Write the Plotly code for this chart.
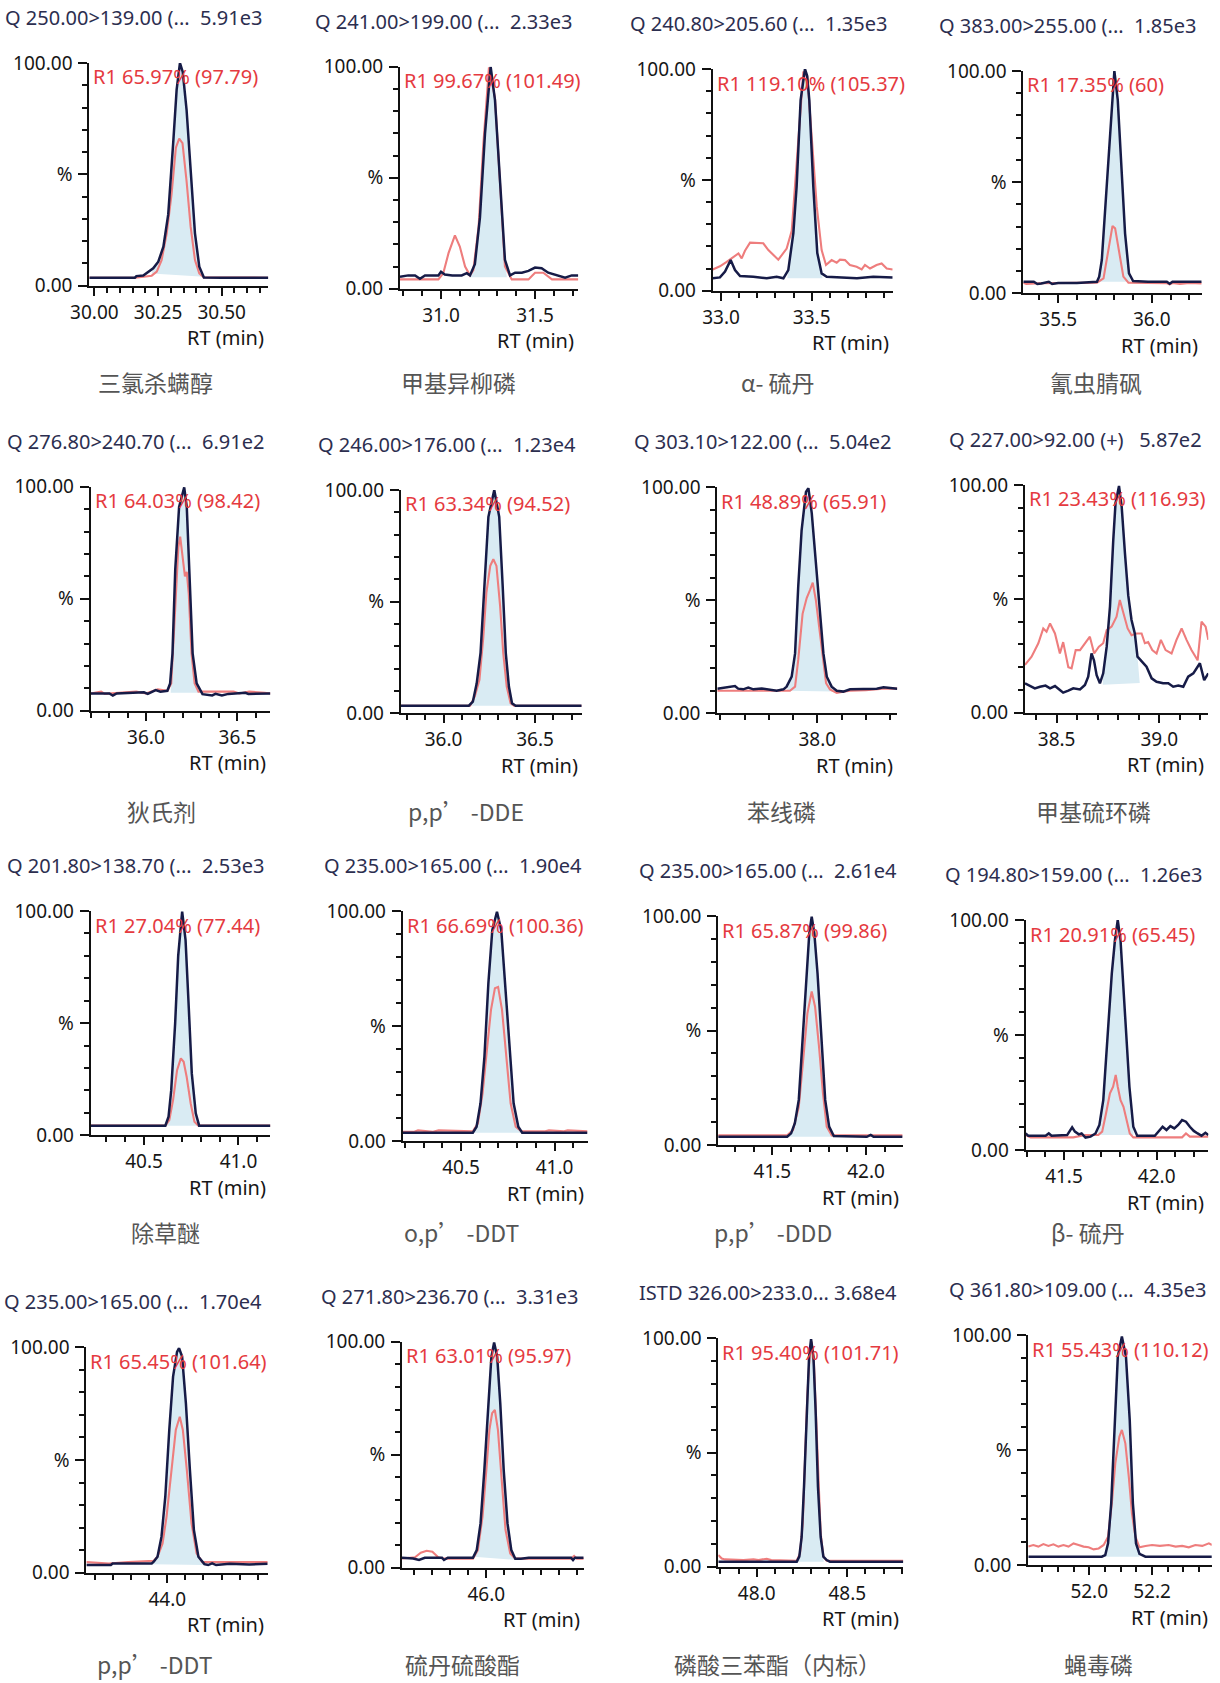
import math
import plotly.graph_objects as go

# ---------------- DATA ----------------
# panel 1
rt_q01 = [29.98, 30.10, 30.159, 30.165, 30.192, 30.231, 30.251, 30.271, 30.29, 30.31, 30.323, 30.336, 30.347, 30.362, 30.378, 30.395, 30.412, 30.43, 30.50, 30.683]
q01 = [3.6, 3.6, 3.6, 4.3, 4.6, 7.8, 10.8, 17.5, 32, 65, 88, 100, 96, 79, 50, 23.5, 8.5, 3.7, 3.6, 3.6]
rt_r01 = [29.98, 30.16, 30.225, 30.245, 30.264, 30.284, 30.303, 30.32, 30.333, 30.346, 30.362, 30.378, 30.395, 30.412, 30.43, 30.683]
r01 = [3.6, 3.6, 4.5, 6.3, 11.5, 23.5, 41, 62, 66, 64, 47, 26.5, 11.5, 5.5, 3.7, 3.6]
int01 = (30.225, 5.5, 30.43, 4.0)
# panel 2
rt_q02 = [30.782, 30.826, 30.862, 30.888, 30.915, 30.986, 31.0, 31.02, 31.06, 31.11, 31.137, 31.154, 31.18, 31.207, 31.234, 31.264, 31.287, 31.314, 31.34, 31.367, 31.394, 31.43, 31.465, 31.5, 31.535, 31.57, 31.624, 31.66, 31.695, 31.73]
q02 = [5.4, 6, 6, 4.5, 6, 6, 7.6, 6.4, 6, 6, 7, 6, 11, 32, 70, 100, 85, 47, 13, 6, 7.2, 7.2, 8, 9.5, 9.2, 7.2, 6, 5, 6, 6]
rt_r02 = [30.782, 30.986, 31.012, 31.04, 31.074, 31.1, 31.128, 31.154, 31.172, 31.2, 31.225, 31.255, 31.287, 31.314, 31.34, 31.376, 31.465, 31.5, 31.544, 31.59, 31.73]
r02 = [4.2, 4.2, 7, 16, 24, 19, 10, 6, 8.4, 28, 65, 99.7, 86, 46, 10, 4.2, 4.2, 7.2, 7.2, 4.2, 4.2]
int02 = (31.154, 5.2, 31.35, 5.2)
# panel 3
rt_q03 = [32.954, 32.994, 33.022, 33.053, 33.077, 33.105, 33.178, 33.252, 33.307, 33.344, 33.371, 33.399, 33.417, 33.439, 33.463, 33.475, 33.487, 33.509, 33.531, 33.555, 33.583, 33.675, 33.75, 33.84, 33.947]
q03 = [5.6, 6, 8.6, 13.8, 9.3, 6.6, 6.3, 5.6, 6.3, 5.6, 9.3, 26, 47, 86, 100, 97, 86, 47, 17, 7.8, 6.3, 6, 5.6, 6.3, 6]
rt_r03 = [32.954, 32.994, 33.031, 33.068, 33.096, 33.114, 33.132, 33.16, 33.197, 33.233, 33.261, 33.289, 33.316, 33.335, 33.362, 33.39, 33.408, 33.432, 33.454, 33.476, 33.5, 33.528, 33.555, 33.579, 33.61, 33.638, 33.656, 33.684, 33.711, 33.748, 33.776, 33.794, 33.822, 33.858, 33.886, 33.914, 33.947]
r03 = [9.6, 11, 13, 15.3, 16.8, 14.6, 18, 21.7, 21.4, 21.4, 18.3, 16, 14, 16, 19, 27, 47, 78, 98.8, 96.5, 71, 38, 18.3, 11.6, 13.8, 12.6, 14, 13.8, 11.6, 10.8, 9.6, 11.6, 10, 11.6, 12.3, 10, 9.6]
int03 = (33.365, 5.6, 33.56, 5.6)
# panel 4
rt_q04 = [35.314, 35.37, 35.389, 35.41, 35.45, 35.468, 35.50, 35.60, 35.707, 35.719, 35.733, 35.754, 35.777, 35.80, 35.818, 35.836, 35.857, 35.878, 35.90, 35.98, 36.08, 36.095, 36.11, 36.266]
q04 = [5.2, 5.2, 4.2, 4.4, 5.2, 4.2, 4.6, 4.6, 5.2, 7.5, 15, 42, 69, 100, 87, 60, 27, 9, 5.5, 5.2, 5.2, 4.3, 5.2, 5.2]
rt_r04 = [35.314, 35.33, 35.40, 35.50, 35.60, 35.707, 35.742, 35.765, 35.79, 35.804, 35.825, 35.848, 35.875, 36.0, 36.08, 36.095, 36.11, 36.15, 36.2, 36.266]
r04 = [4.8, 4.2, 4.5, 4.5, 4.5, 4.8, 6.7, 18, 30.3, 29.2, 18, 7.5, 4.8, 4.8, 4.5, 4.0, 4.6, 4.2, 4.6, 4.4]
int04 = (35.71, 5.2, 35.885, 5.2)
# panel 5
rt_q05 = [35.698, 35.80, 35.819, 35.84, 35.989, 36.01, 36.053, 36.079, 36.117, 36.132, 36.145, 36.16, 36.181, 36.209, 36.223, 36.238, 36.255, 36.277, 36.309, 36.362, 36.38, 36.415, 36.45, 36.543, 36.56, 36.68]
q05 = [7.7, 7.7, 6.8, 7.7, 8.2, 7.5, 9.2, 8.5, 8.9, 12.2, 25.6, 63, 91, 99.7, 91, 63, 25.6, 12.2, 7.4, 6.8, 7.5, 6.8, 7.5, 8.0, 7.5, 7.7]
rt_r05 = [35.698, 35.755, 35.775, 35.947, 36.0, 36.064, 36.117, 36.138, 36.16, 36.177, 36.187, 36.202, 36.213, 36.223, 36.234, 36.249, 36.266, 36.287, 36.479, 36.51, 36.564, 36.649, 36.68]
r05 = [7.7, 8.5, 7.5, 8.5, 7.7, 9.5, 8.9, 12.2, 46, 73, 77.7, 67, 60, 62, 52, 25.6, 12.2, 8.5, 8.5, 7.7, 8.5, 8.0, 7.7]
int05 = (36.135, 8.0, 36.298, 8.0)
# panel 6
rt_q06 = [35.766, 36.138, 36.16, 36.181, 36.202, 36.223, 36.245, 36.277, 36.304, 36.323, 36.34, 36.357, 36.374, 36.394, 36.755]
q06 = [3.4, 3.4, 5.2, 13.4, 27, 57, 88, 100, 88, 57, 27, 12, 4.5, 3.4, 3.4]
rt_r06 = [35.766, 36.145, 36.17, 36.196, 36.217, 36.234, 36.255, 36.272, 36.289, 36.309, 36.326, 36.345, 36.366, 36.385, 36.755]
r06 = [3.4, 3.4, 7.5, 15, 34, 54, 66, 69, 66, 48, 27, 12, 4.5, 3.4, 3.4]
int06 = (36.14, 3.4, 36.39, 3.4)
# panel 7
rt_q07 = [37.587, 37.618, 37.66, 37.673, 37.694, 37.715, 37.736, 37.77, 37.804, 37.832, 37.86, 37.873, 37.894, 37.908, 37.921, 37.935, 37.953, 37.963, 37.977, 37.99, 38.008, 38.025, 38.039, 38.059, 38.08, 38.107, 38.135, 38.19, 38.245, 38.273, 38.30, 38.33]
q07 = [10.9, 11.5, 12.1, 10.9, 10.6, 11.4, 10.6, 11.0, 10.6, 10.0, 10.6, 11.8, 16.2, 26.5, 56, 81, 98, 99.6, 88.5, 70.8, 47, 26.5, 16.2, 11.8, 10.0, 9.6, 10.6, 10.6, 10.9, 11.5, 11.2, 10.9]
rt_r07 = [37.587, 37.887, 37.908, 37.921, 37.939, 37.956, 37.97, 37.981, 37.994, 38.008, 38.022, 38.036, 38.052, 38.08, 38.107, 38.135, 38.2, 38.27, 38.33]
r07 = [10.0, 10.0, 11.8, 23.6, 44, 51, 54.6, 57.8, 50, 38, 23.6, 13.3, 10.6, 9.0, 9.6, 10.0, 10.2, 10.9, 10.9]
int07 = (37.873, 10.0, 38.066, 9.6)
# panel 8
rt_q08 = [38.346, 38.37, 38.394, 38.419, 38.446, 38.468, 38.492, 38.516, 38.532, 38.557, 38.581, 38.614, 38.638, 38.654, 38.67, 38.682, 38.695, 38.711, 38.727, 38.744, 38.76, 38.776, 38.787, 38.804, 38.817, 38.833, 38.849, 38.865, 38.881, 38.894, 38.914, 38.938, 38.963, 38.987, 39.019, 39.044, 39.068, 39.093, 39.117, 39.141, 39.166, 39.198, 39.219, 39.239]
q08 = [12.9, 11.9, 10.7, 11.4, 11.9, 10.7, 11.7, 10.0, 8.8, 9.7, 10.7, 10.2, 12.2, 15.8, 26, 23, 16.5, 12.9, 17.3, 29, 46.6, 75.8, 92, 99.6, 90.5, 70, 51.5, 40.7, 34.8, 24.6, 22.4, 20.2, 15.1, 13.6, 12.9, 12.9, 11.4, 11.9, 11.4, 15.8, 17.3, 21.7, 14.3, 17.3]
rt_r08 = [38.346, 38.378, 38.411, 38.435, 38.451, 38.468, 38.492, 38.516, 38.532, 38.557, 38.573, 38.593, 38.614, 38.638, 38.662, 38.683, 38.706, 38.727, 38.744, 38.768, 38.792, 38.808, 38.825, 38.846, 38.865, 38.889, 38.914, 38.93, 38.946, 38.966, 38.987, 39.008, 39.031, 39.06, 39.084, 39.109, 39.133, 39.157, 39.187, 39.206, 39.226, 39.239]
r08 = [21, 24.6, 30.5, 37, 35.6, 39.2, 34.8, 26, 31, 20, 19.5, 27.5, 27.5, 30.5, 33.4, 26, 29, 30.5, 36.3, 37.8, 42.2, 49.5, 43.6, 37, 34, 34.8, 34.8, 30.5, 31, 27.5, 26, 32, 27.5, 26, 32, 37, 32, 27.5, 23, 40, 37.8, 32]
int08 = (38.725, 12.3, 38.905, 13.0)
# panel 9
rt_q09 = [40.218, 40.613, 40.63, 40.644, 40.665, 40.681, 40.702, 40.72, 40.737, 40.753, 40.774, 40.792, 41.169]
q09 = [4.3, 4.3, 8.3, 20, 50, 80, 99.7, 87, 57, 27.6, 9.8, 4.3, 4.3]
rt_r09 = [40.218, 40.613, 40.634, 40.654, 40.675, 40.695, 40.71, 40.726, 40.747, 40.767, 40.788, 41.169]
r09 = [4.3, 4.3, 6.8, 15.8, 29, 34.3, 32.8, 26, 14.3, 6, 4.3, 4.3]
int09 = (40.62, 4.3, 40.79, 4.3)
# panel 10
rt_q10 = [40.188, 40.563, 40.583, 40.604, 40.625, 40.646, 40.667, 40.692, 40.715, 40.735, 40.76, 40.781, 40.806, 40.827, 41.176]
q10 = [3.6, 3.6, 6.2, 16.4, 36.7, 68.6, 91.7, 99.7, 91.7, 68.6, 36.7, 16.4, 6.2, 3.6, 3.6]
rt_r10 = [40.188, 40.25, 40.27, 40.35, 40.38, 40.563, 40.59, 40.615, 40.64, 40.66, 40.681, 40.698, 40.719, 40.74, 40.765, 40.792, 40.823, 40.95, 40.97, 41.05, 41.07, 41.176]
r10 = [4.0, 4.0, 4.6, 4.0, 4.6, 4.2, 7.7, 20.7, 41, 57, 66.4, 67, 57, 36.7, 16.4, 6.2, 4.2, 4.2, 4.6, 4.2, 4.6, 4.2]
int10 = (40.565, 3.6, 40.83, 3.6)
# panel 11
rt_q11 = [41.211, 41.579, 41.6, 41.62, 41.641, 41.662, 41.683, 41.697, 41.71, 41.724, 41.741, 41.761, 41.782, 41.803, 41.828, 42.004, 42.025, 42.04, 42.195]
q11 = [3.6, 3.6, 5.1, 9.5, 19.7, 45.9, 75, 92.4, 99.7, 92.4, 75, 45.9, 19.7, 8, 3.9, 3.6, 4.4, 3.6, 3.6]
rt_r11 = [41.211, 41.579, 41.61, 41.641, 41.666, 41.687, 41.71, 41.728, 41.749, 41.77, 41.79, 41.817, 42.195]
r11 = [4.2, 4.2, 6.5, 16.7, 38.6, 57.5, 67, 60.4, 42.9, 22.6, 8, 4.2, 4.2]
int11 = (41.585, 3.6, 41.82, 3.6)
# panel 12
rt_q12 = [41.293, 41.307, 41.401, 41.418, 41.433, 41.517, 41.544, 41.559, 41.58, 41.595, 41.616, 41.643, 41.67, 41.691, 41.712, 41.733, 41.758, 41.775, 41.79, 41.805, 41.817, 41.834, 41.853, 41.874, 41.895, 41.99, 42.011, 42.032, 42.053, 42.074, 42.095, 42.116, 42.137, 42.158, 42.179, 42.2, 42.221, 42.242, 42.263, 42.279]
q12 = [7.2, 6.2, 6.2, 7.2, 6.2, 6.5, 9.9, 8.0, 6.8, 7.2, 5.4, 5.8, 7.2, 10.9, 21.7, 47.8, 76.8, 91.3, 100, 91.3, 74, 50.7, 27.5, 10.1, 6.2, 6.2, 8.0, 10.1, 8.7, 10.4, 9.4, 10.9, 13.0, 12.3, 10.1, 8.3, 7.2, 6.2, 7.5, 6.5]
rt_r12 = [41.293, 41.32, 41.55, 41.616, 41.685, 41.706, 41.727, 41.748, 41.765, 41.779, 41.79, 41.805, 41.821, 41.838, 41.855, 41.874, 42.137, 42.158, 42.179, 42.279]
r12 = [6.5, 5.5, 5.5, 6.5, 6.5, 8.0, 16, 24.6, 27.5, 32.6, 27.5, 21.7, 18.8, 13, 7.2, 5.5, 5.5, 7.2, 5.8, 5.8]
int12 = (41.68, 6.5, 41.875, 6.5)
# panel 13
rt_q13 = [43.553, 43.688, 43.698, 43.914, 43.925, 43.946, 43.968, 43.989, 44.011, 44.032, 44.054, 44.065, 44.082, 44.103, 44.125, 44.147, 44.172, 44.205, 44.226, 44.248, 44.27, 44.345, 44.453, 44.555]
q13 = [3.4, 3.4, 4.1, 4.1, 4.9, 7.1, 16, 33.7, 63.3, 87, 98, 99.6, 95.9, 75, 45.6, 19, 7.1, 3.8, 3.4, 4.1, 3.4, 4.0, 3.6, 4.0]
rt_r13 = [43.553, 43.677, 43.784, 43.925, 43.946, 43.974, 43.996, 44.022, 44.047, 44.069, 44.086, 44.108, 44.134, 44.162, 44.194, 44.555]
r13 = [4.7, 4.1, 4.7, 5.3, 7.1, 13, 24.9, 45.6, 63.3, 69.2, 63.3, 45.6, 21.9, 8.6, 4.7, 4.7]
int13 = (43.915, 3.8, 44.2, 3.4)
# panel 14
rt_q14 = [45.534, 45.596, 45.628, 45.66, 45.755, 45.766, 45.787, 45.926, 45.947, 45.968, 45.989, 46.011, 46.028, 46.043, 46.06, 46.077, 46.096, 46.117, 46.138, 46.16, 46.191, 46.234, 46.468, 46.479, 46.49, 46.538]
q14 = [4.4, 4.1, 3.4, 4.4, 4.4, 3.4, 4.4, 4.4, 7.8, 19.6, 43.2, 72.7, 93.4, 99.6, 93.4, 72.7, 43.2, 19.6, 7.8, 4.0, 4.0, 4.4, 4.4, 3.4, 4.4, 4.4]
rt_r14 = [45.534, 45.606, 45.638, 45.67, 45.702, 45.734, 45.766, 45.926, 45.953, 45.979, 46.0, 46.017, 46.032, 46.047, 46.064, 46.085, 46.106, 46.132, 46.16, 46.468, 46.485, 46.5, 46.538]
r14 = [4.1, 4.6, 6.6, 7.5, 7.1, 4.6, 4.0, 4.0, 7.8, 22.6, 43.2, 61, 68.4, 69.8, 61, 37.3, 16.7, 6.3, 4.0, 4.0, 5.2, 4.0, 4.0]
int14 = (45.93, 4.8, 46.16, 3.5)
# panel 15
rt_q15 = [47.788, 48.221, 48.235, 48.248, 48.261, 48.276, 48.289, 48.30, 48.313, 48.325, 48.338, 48.353, 48.368, 48.386, 48.404, 48.809]
q15 = [2.2, 2.2, 4.4, 13, 35, 68.6, 92, 99.6, 92, 68.6, 35, 13, 4.4, 2.9, 2.2, 2.2]
rt_r15 = [47.788, 47.807, 47.825, 47.926, 47.982, 48.01, 48.055, 48.08, 48.221, 48.239, 48.254, 48.267, 48.279, 48.294, 48.303, 48.316, 48.327, 48.34, 48.353, 48.368, 48.386, 48.809]
r15 = [5.1, 3.6, 3.2, 2.9, 3.2, 2.9, 3.5, 2.9, 2.6, 5.8, 19, 45, 74.5, 95, 98.5, 89, 65.7, 36.5, 14.6, 4.4, 2.6, 2.6]
int15 = (48.225, 2.2, 48.37, 2.2)
# panel 16
rt_q16 = [51.806, 52.04, 52.051, 52.06, 52.07, 52.081, 52.091, 52.104, 52.117, 52.129, 52.139, 52.149, 52.16, 52.179, 52.391]
q16 = [3.6, 3.6, 4.3, 9.4, 26.8, 63, 90.6, 99.3, 90.6, 63, 26.8, 9.4, 4.8, 3.6, 3.6]
rt_r16 = [51.806, 51.822, 51.838, 51.854, 51.87, 51.886, 51.902, 51.918, 51.934, 51.95, 51.966, 51.982, 51.998, 52.014, 52.03, 52.046, 52.06, 52.072, 52.083, 52.096, 52.104, 52.115, 52.126, 52.136, 52.147, 52.16, 52.179, 52.2, 52.225, 52.253, 52.275, 52.296, 52.317, 52.338, 52.36, 52.381, 52.391]
r16 = [8, 8.7, 8, 9.1, 8.3, 9, 8, 8.7, 8, 9.4, 8.7, 8, 7.7, 6.8, 7.2, 8.7, 12.3, 26.8, 44.2, 55.8, 58.7, 52.9, 38.4, 22.5, 12.3, 7.7, 8.3, 8.7, 8.3, 8.7, 8.0, 8.3, 7.7, 8.7, 8.3, 9.4, 8.7]
int16 = (52.048, 3.6, 52.16, 3.6)

# RT windows (min)
rt_windows = [(29.98, 30.683), (30.782, 31.730), (32.954, 33.947), (35.314, 36.266),
              (35.698, 36.68), (35.766, 36.755), (37.587, 38.33), (38.346, 39.239),
              (40.218, 41.169), (40.188, 41.176), (41.211, 42.195), (41.293, 42.279),
              (43.553, 44.555), (45.534, 46.538), (47.788, 48.809), (51.806, 52.39)]

# major RT ticks and their labels
rt_tick_vals = [[30.0, 30.25, 30.5], [31.0, 31.5], [33.0, 33.5], [35.5, 36.0],
                [36.0, 36.5], [36.0, 36.5], [38.0], [38.5, 39.0],
                [40.5, 41.0], [40.5, 41.0], [41.5, 42.0], [41.5, 42.0],
                [44.0, 44.5], [46.0, 46.5], [48.0, 48.5], [52.0, 52.2]]
rt_tick_text = [["30.00", "30.25", "30.50"], ["31.0", "31.5"], ["33.0", "33.5"], ["35.5", "36.0"],
                ["36.0", "36.5"], ["36.0", "36.5"], ["38.0"], ["38.5", "39.0"],
                ["40.5", "41.0"], ["40.5", "41.0"], ["41.5", "42.0"], ["41.5", "42.0"],
                ["44.0", ""], ["46.0", ""], ["48.0", "48.5"], ["52.0", "52.2"]]
rt_minor_step = [0.05, 0.1, 0.1, 0.1, 0.1, 0.1, 0.1, 0.1, 0.1, 0.1, 0.1, 0.1, 0.1, 0.1, 0.1, 0.05]
y_tick_vals = [0, 50, 100]
y_tick_text = ["0.00", "%", "100.00"]

titles = ["Q 250.00>139.00 (...\u00a0 5.91e3", "Q 241.00>199.00 (...\u00a0 2.33e3",
          "Q 240.80>205.60 (...\u00a0 1.35e3", "Q 383.00>255.00 (...\u00a0 1.85e3",
          "Q 276.80>240.70 (...\u00a0 6.91e2", "Q 246.00>176.00 (...\u00a0 1.23e4",
          "Q 303.10>122.00 (...\u00a0 5.04e2", "Q 227.00>92.00 (+)\u00a0\u00a0 5.87e2",
          "Q 201.80>138.70 (...\u00a0 2.53e3", "Q 235.00>165.00 (...\u00a0 1.90e4",
          "Q 235.00>165.00 (...\u00a0 2.61e4", "Q 194.80>159.00 (...\u00a0 1.26e3",
          "Q 235.00>165.00 (...\u00a0 1.70e4", "Q 271.80>236.70 (...\u00a0 3.31e3",
          "ISTD 326.00>233.0... 3.68e4", "Q 361.80>109.00 (...\u00a0 4.35e3"]
ratios = ["R1 65.97% (97.79)", "R1 99.67% (101.49)", "R1 119.10% (105.37)", "R1 17.35% (60)",
          "R1 64.03% (98.42)", "R1 63.34% (94.52)", "R1 48.89% (65.91)", "R1 23.43% (116.93)",
          "R1 27.04% (77.44)", "R1 66.69% (100.36)", "R1 65.87% (99.86)", "R1 20.91% (65.45)",
          "R1 65.45% (101.64)", "R1 63.01% (95.97)", "R1 95.40% (101.71)", "R1 55.43% (110.12)"]
compounds = ["三氯杀螨醇", "甲基异柳磷", "α- 硫丹", "氰虫腈砜",
             "狄氏剂", "p,p’ -DDE", "苯线磷", "甲基硫环磷",
             "除草醚", "o,p’ -DDT", "p,p’ -DDD", "β- 硫丹",
             "p,p’ -DDT", "硫丹硫酸酯", "磷酸三苯酯（内标）", "蝇毒磷"]

quant_rt = [rt_q01, rt_q02, rt_q03, rt_q04, rt_q05, rt_q06, rt_q07, rt_q08,
            rt_q09, rt_q10, rt_q11, rt_q12, rt_q13, rt_q14, rt_q15, rt_q16]
quant = [q01, q02, q03, q04, q05, q06, q07, q08, q09, q10, q11, q12, q13, q14, q15, q16]
qual_rt = [rt_r01, rt_r02, rt_r03, rt_r04, rt_r05, rt_r06, rt_r07, rt_r08,
           rt_r09, rt_r10, rt_r11, rt_r12, rt_r13, rt_r14, rt_r15, rt_r16]
qual = [r01, r02, r03, r04, r05, r06, r07, r08, r09, r10, r11, r12, r13, r14, r15, r16]
integ = [int01, int02, int03, int04, int05, int06, int07, int08,
         int09, int10, int11, int12, int13, int14, int15, int16]

# ---------------- LAYOUT (pixel geometry) ----------------
W, H = 1220, 1683
# plot boxes: left, top (100%), right, bottom (0%)
boxes = [(89.3, 63, 268.3, 285.7), (400, 66.7, 578.3, 288.7), (712.7, 69, 892.7, 290.7), (1023.3, 71, 1201.7, 293.3),
         (90.7, 486.7, 270.4, 710.7), (400.8, 490, 581.7, 713.3), (717.3, 487.3, 897.3, 713.3), (1025, 485, 1208.3, 712.7),
         (90.7, 911, 270.4, 1135.3), (402.7, 911, 587.5, 1141), (718.2, 916, 902.6, 1145), (1025.6, 920, 1208.4, 1150),
         (86.4, 1347.3, 267.7, 1572.7), (402, 1341.7, 583.7, 1567.7), (718.3, 1338.3, 903.3, 1566.7), (1028.3, 1335, 1211.7, 1565)]
name_x = [155, 458, 778, 1096, 162, 466, 781, 1093, 165, 461, 773, 1088, 155, 462, 778, 1098]
name_y = [382] * 4 + [811] * 4 + [1232] * 4 + [1664] * 4

NAVY = "#161b47"
RED = "#ee7d7d"
FILL = "#d9ebf3"
TXT = "Noto Sans, Open Sans, sans-serif"
CJK = "Noto Sans CJK SC, Noto Sans, sans-serif"

fig = go.Figure()
layout = dict(width=W, height=H, autosize=False, margin=dict(l=0, r=0, t=0, b=0, pad=0),
              paper_bgcolor="white", plot_bgcolor="white", showlegend=False,
              font=dict(family=TXT, size=19, color="#161616"))
annotations = []

for i in range(16):
    k = "" if i == 0 else str(i + 1)
    xr, yr = "x" + k, "y" + k
    left, top, right, bottom = boxes[i]
    lo, hi = rt_windows[i]
    # integration fill
    s_rt, s_v, e_rt, e_v = integ[i]
    fx = [s_rt] + [t for t in quant_rt[i] if s_rt < t < e_rt] + [e_rt]
    fy = [s_v] + [v for t, v in zip(quant_rt[i], quant[i]) if s_rt < t < e_rt] + [e_v]
    fig.add_trace(go.Scatter(x=fx, y=fy, xaxis=xr, yaxis=yr, mode="lines", fill="toself",
                             fillcolor=FILL, line=dict(width=0, color=FILL), hoverinfo="skip"))
    fig.add_trace(go.Scatter(x=qual_rt[i], y=qual[i], xaxis=xr, yaxis=yr, mode="lines",
                             line=dict(color=RED, width=2.1)))
    fig.add_trace(go.Scatter(x=quant_rt[i], y=quant[i], xaxis=xr, yaxis=yr, mode="lines",
                             line=dict(color=NAVY, width=2.5)))
    # apex marker
    j = max(range(len(quant[i])), key=lambda n: quant[i][n])
    off = 6.0 / (bottom - top) * 100
    fig.add_trace(go.Scatter(x=[quant_rt[i][j]], y=[quant[i][j] + off], xaxis=xr, yaxis=yr,
                             mode="markers", cliponaxis=False,
                             marker=dict(symbol="triangle-down", size=12, color="#14286a")))
    step = rt_minor_step[i]
    minor_vals = [round(n * step, 4) for n in range(math.ceil(lo / step - 1e-9), math.floor(hi / step + 1e-9) + 1)]
    layout["xaxis" + k] = dict(
        domain=[left / W, right / W], anchor=yr, range=[lo, hi], showgrid=False, zeroline=False,
        automargin=False,
        showline=True, linecolor="#111", linewidth=2, ticks="outside", ticklen=8, tickwidth=1.6,
        tickcolor="#111", tickmode="array", tickvals=rt_tick_vals[i], ticktext=rt_tick_text[i],
        ticklabelstandoff=0, tickfont=dict(size=19, color="#161616", family=TXT),
        minor=dict(tickmode="array", tickvals=minor_vals, ticks="outside", ticklen=5,
                   tickwidth=1.6, tickcolor="#111"),
        fixedrange=True)
    layout["yaxis" + k] = dict(
        domain=[1 - bottom / H, 1 - top / H], anchor=xr, range=[0, 100], showgrid=False, zeroline=False,
        automargin=False,
        showline=True, linecolor="#111", linewidth=2, ticks="outside", ticklen=9, tickwidth=1.6,
        tickcolor="#111", tickmode="array", tickvals=y_tick_vals, ticktext=y_tick_text,
        ticklabelstandoff=2, tickfont=dict(size=19, color="#161616", family=TXT),
        minor=dict(dtick=10, tick0=0, ticks="outside", ticklen=5, tickwidth=1.6, tickcolor="#111"),
        fixedrange=True)
    # title (trace header)
    annotations.append(dict(text=titles[i], xref="paper", yref="paper", x=(right - 4) / W,
                            y=1 - (top - 45.5) / H, xanchor="right", yanchor="middle", showarrow=False,
                            font=dict(size=20, color="#2c2e4f", family=TXT)))
    # ion ratio text
    annotations.append(dict(text=ratios[i], xref="paper", yref="paper", x=(left + 2) / W,
                            y=1 - (top + 14) / H, xanchor="left", yanchor="middle", showarrow=False,
                            font=dict(size=20, color="#e53a40", family=TXT)))
    # axis title
    annotations.append(dict(text="RT (min)", xref="paper", yref="paper", x=(right - 2) / W,
                            y=1 - (bottom + 52) / H, xanchor="right", yanchor="middle", showarrow=False,
                            font=dict(size=20, color="#161616", family=TXT)))
    # compound name
    annotations.append(dict(text=compounds[i], xref="paper", yref="paper", x=name_x[i] / W,
                            y=1 - name_y[i] / H, xanchor="center", yanchor="middle", showarrow=False,
                            font=dict(size=23, color="#555555", family=CJK)))

layout["annotations"] = annotations
fig.update_layout(**layout)
fig.write_html("out.html", config={"displayModeBar": False},
               post_script="document.body.style.margin='0';")
